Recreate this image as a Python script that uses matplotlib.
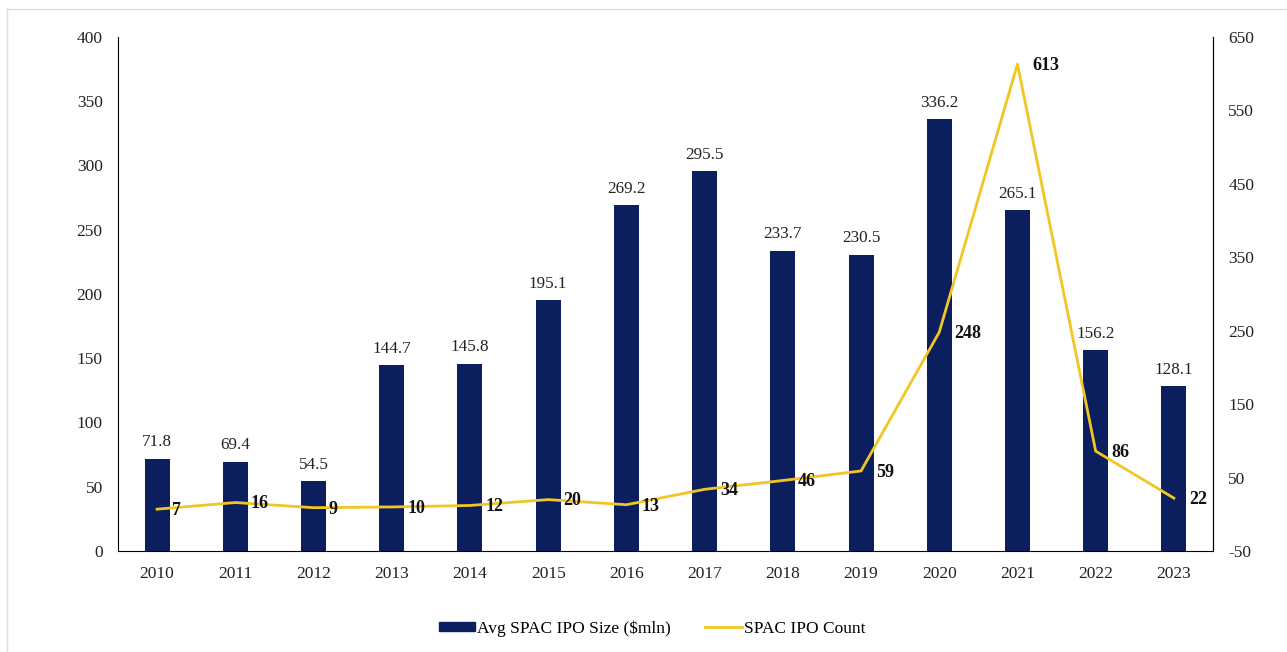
import matplotlib
matplotlib.use("Agg")
import matplotlib.pyplot as plt
from matplotlib.lines import Line2D

years = ["2010", "2011", "2012", "2013", "2014", "2015", "2016",
         "2017", "2018", "2019", "2020", "2021", "2022", "2023"]
avg_size = [71.8, 69.4, 54.5, 144.7, 145.8, 195.1, 269.2,
            295.5, 233.7, 230.5, 336.2, 265.1, 156.2, 128.1]
ipo_count = [7, 16, 9, 10, 12, 20, 13, 34, 46, 59, 248, 613, 86, 22]

left_ticks = [0, 50, 100, 150, 200, 250, 300, 350, 400]
right_ticks = [-50, 50, 150, 250, 350, 450, 550, 650]

bar_color = "#0B1F5E"
line_color = "#F2C622"

plt.rcParams['font.family'] = ['Liberation Serif', 'DejaVu Serif']
plt.rcParams['axes.unicode_minus'] = False

fig = plt.figure(figsize=(12.87, 6.52), dpi=100)
ax = fig.add_axes([0.0917, 0.1549, 0.8508, 0.7884])
ax2 = ax.twinx()

x = list(range(len(years)))
ax.bar(x, avg_size, width=0.32, color=bar_color, zorder=2)
for xi, v in zip(x, avg_size):
    ax.annotate(f"{v:.1f}", (xi, v), xytext=(0, 6), textcoords="offset points",
                ha="center", va="bottom", fontsize=12.3, color="#222222")

ax.set_xlim(-0.5, len(years) - 0.5)
ax.set_ylim(0, 400)
ax.set_yticks(left_ticks)
ax.set_xticks(x)
ax.set_xticklabels(years)
ax.tick_params(axis="x", length=0, labelsize=12.5, colors="#222222", pad=11)
ax.tick_params(axis="y", length=0, labelsize=12.5, colors="#222222", pad=11)

ax2.plot(x, ipo_count, color=line_color, linewidth=2, zorder=3)
ax2.set_ylim(-50, 650)
ax2.set_yticks(right_ticks)
ax2.tick_params(axis="y", length=0, labelsize=12.5, colors="#222222", pad=11)
for xi, v in zip(x, ipo_count):
    ax2.annotate(str(v), (xi, v), xytext=(11, -1), textcoords="offset points",
                 ha="left", va="center", fontsize=13, fontweight="bold",
                 color="#111111")

for a in (ax, ax2):
    a.spines["top"].set_visible(False)
    a.spines["left"].set_color("black")
    a.spines["right"].set_color("black")
    a.spines["bottom"].set_color("black")
ax2.spines["left"].set_visible(False)
ax2.spines["bottom"].set_visible(False)
ax.set_zorder(ax2.get_zorder() - 1)
ax.patch.set_visible(True)
ax2.patch.set_visible(False)

handles = [
    plt.Rectangle((0, 0), 1, 1, color=bar_color),
    Line2D([0], [0], color=line_color, linewidth=2),
]
fig.legend(handles, ["Avg SPAC IPO Size ($mln)", "SPAC IPO Count"],
           loc="center", bbox_to_anchor=(0.5066, 0.036), ncol=2, frameon=False,
           fontsize=12.5, handlelength=2.1, handleheight=0.4, handletextpad=0.1,
           columnspacing=2.0)

# light outer border (top and left)
fig.add_artist(Line2D([7 / 1287, 1.0], [1 - 9 / 652, 1 - 9 / 652],
                      transform=fig.transFigure, color="#dddddd", linewidth=1))
fig.add_artist(Line2D([7 / 1287, 7 / 1287], [0, 1 - 9 / 652],
                      transform=fig.transFigure, color="#dddddd", linewidth=1))

fig.savefig("out.png", dpi=100)
